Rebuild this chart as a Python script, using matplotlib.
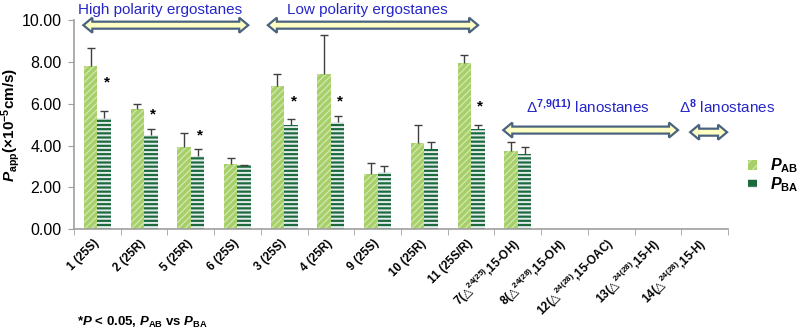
import numpy as np
import matplotlib
matplotlib.use("Agg")
import matplotlib.pyplot as plt
from matplotlib.patches import Patch, Polygon

plt.rcParams['font.family'] = ['Liberation Sans', 'DejaVu Sans']
plt.rcParams['mathtext.fontset'] = 'custom'
plt.rcParams['mathtext.rm'] = 'Liberation Sans:bold'
plt.rcParams['mathtext.it'] = 'Liberation Sans:bold:italic'
plt.rcParams['mathtext.bf'] = 'Liberation Sans:bold'
plt.rcParams['mathtext.sf'] = 'DejaVu Sans'

# data
compounds = ["1 (25S)", "2 (25R)", "5 (25R)", "6 (25S)", "3 (25S)", "4 (25R)",
             "9 (25S)", "10 (25R)", "11 (25S/R)",
             "7($\\mathsf{\u25b3}^{24(25)}$,15-OH)", "8($\\mathsf{\u25b3}^{24(28)}$,15-OH)",
             "12($\\mathsf{\u25b3}^{24(28)}$,15-OAC)", "13($\\mathsf{\u25b3}^{24(28)}$,15-H)",
             "14($\\mathsf{\u25b3}^{24(28)}$,15-H)"]
p_ab = [7.8, 5.75, 3.95, 3.1, 6.85, 7.4, 2.65, 4.1, 7.95, 3.75]
p_ab_sd = [0.87, 0.25, 0.65, 0.3, 0.55, 1.9, 0.5, 0.9, 0.4, 0.4]
p_ba = [5.33, 4.5, 3.5, 3.05, 5.0, 5.15, 2.75, 3.85, 4.8, 3.6]
p_ba_sd = [0.3, 0.27, 0.35, 0.03, 0.28, 0.25, 0.25, 0.3, 0.2, 0.35]
significant = [0, 1, 2, 4, 5, 8]
star_y = [7.0, 5.5, 4.5, 6.1, 6.1, 5.85]

# groups: label, arrow start, arrow end (category units), arrow y, text x, text y
groups = [("High polarity ergostanes", -0.3, 3.23, 9.76, 1.34, 10.5),
          ("Low polarity ergostanes", 3.65, 8.15, 9.76, 5.77, 10.5),
          ("\u0394$^{7{,}9(11)}$ lanostanes", 8.69, 12.43, 4.74, 10.5, 5.84),
          ("\u0394$^{8}$ lanostanes", 12.69, 13.48, 4.64, 13.48, 5.84)]

light = '#a6cf68'
light_line = '#cfe6ad'
dark = '#1b6b3c'
dark_line = '#e6ecee'
blue = '#2626c8'

fig = plt.figure(figsize=(8, 3.36), dpi=100)
ax = fig.add_axes([0.0925, 0.318, 0.8175, 0.622])

n = len(p_ab)
x = np.arange(n)
w = 0.29
with plt.rc_context({'hatch.linewidth': 1.0}):
    ax.bar(x - 0.145, p_ab, w, color=light, edgecolor=light_line, linewidth=0,
           hatch='/////', zorder=2)
with plt.rc_context({'hatch.linewidth': 1.4}):
    ax.bar(x + 0.145, p_ba, w, color=dark, edgecolor=dark_line, linewidth=0,
           hatch='----', zorder=2)

# upper error bars only
for xs, v, e in [(x - 0.145, p_ab, p_ab_sd), (x + 0.145, p_ba, p_ba_sd)]:
    top = np.array(v) + np.array(e)
    ax.vlines(xs, v, top, color='#404040', lw=1.0, zorder=3)
    ax.plot(xs, top, ls='none', marker='_', ms=6, mew=1.0, color='#404040', zorder=3)

for i, sy in zip(significant, star_y):
    ax.text(i + 0.2, sy, '*', ha='center', va='center', fontsize=11, fontweight='bold')

ax.set_xlim(-0.5, len(compounds) - 0.5)
ax.set_ylim(0, 10)
ax.set_yticks(np.arange(0, 10.01, 2))
ax.set_yticklabels(['%.2f' % t for t in np.arange(0, 10.01, 2)], fontsize=11.5)
ax.set_xticks(np.arange(len(compounds)))
ax.set_xticklabels(compounds, rotation=45, ha='right', va='center',
                   rotation_mode='anchor', fontsize=8.5, fontweight='bold')
ax.set_xticks(np.arange(len(compounds) + 1) - 0.5, minor=True)
ax.tick_params(axis='x', which='major', length=0, pad=9)
ax.tick_params(axis='x', which='minor', length=4, color='#a0a0a0', direction='out')
ax.tick_params(axis='y', length=4, color='#a0a0a0', pad=5)
for s in ['top', 'right']:
    ax.spines[s].set_visible(False)
for s in ['left', 'bottom']:
    ax.spines[s].set_color('#a0a0a0')
    ax.spines[s].set_linewidth(1.2)

ax.set_ylabel('$P_{\\mathrm{app}}$(\u00d710$^{\\mathrm{-5}}$cm/s)', fontsize=11,
              fontweight='bold')
ax.yaxis.set_label_coords(-0.08, 0.5)

# double headed block arrows
def block_arrow(x0, x1, y, shaft=3.5, head=7.5, hl=9):
    (px0, py), (px1, _) = ax.transData.transform([(x0, y), (x1, y)])
    pts = [(px0, py), (px0 + hl, py + head), (px0 + hl, py + shaft),
           (px1 - hl, py + shaft), (px1 - hl, py + head), (px1, py),
           (px1 - hl, py - head), (px1 - hl, py - shaft),
           (px0 + hl, py - shaft), (px0 + hl, py - head)]
    pts = ax.transData.inverted().transform(pts)
    ax.add_patch(Polygon(pts, closed=True, facecolor='#ffffc4',
                         edgecolor='#4a6380', lw=1.6, clip_on=False, zorder=4))

for label, a, b, ya, tx, ty in groups:
    block_arrow(a, b, ya)
    ax.text(tx, ty, label, ha='center', va='center', color=blue, fontsize=11,
            clip_on=False)

handles = [Patch(facecolor=light, edgecolor=light_line, linewidth=0, hatch='///'),
           Patch(facecolor=dark, edgecolor=dark_line, linewidth=0, hatch='--')]
fig.legend(handles, ['$P_{\\mathrm{AB}}$', '$P_{\\mathrm{BA}}$'], loc='center left',
           bbox_to_anchor=(0.935, 0.479), frameon=False, fontsize=11.5,
           borderpad=0, borderaxespad=0,
           handlelength=0.55, handleheight=0.55, handletextpad=0.8, labelspacing=0.0)

fig.text(0.096, 0.04, '*$P$ < 0.05, $P_{\\mathrm{AB}}$ vs $P_{\\mathrm{BA}}$',
         fontsize=9.5, fontweight='bold', ha='left', va='center')

fig.savefig('out.png', dpi=100)
